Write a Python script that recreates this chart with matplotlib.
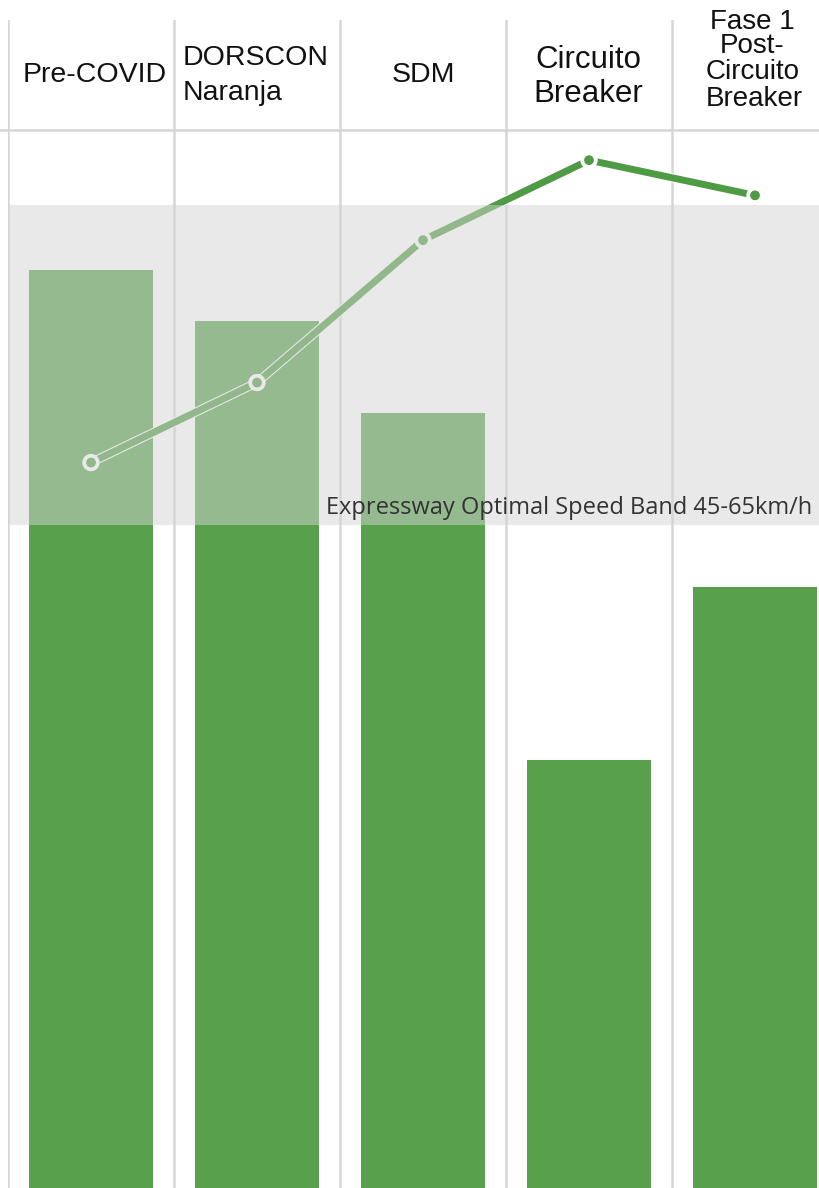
import matplotlib
matplotlib.use("Agg")
import matplotlib.pyplot as plt
import matplotlib.patheffects as pe
import numpy as np

# ---- data ----
categories = ["Pre-COVID", "DORSCON\nNaranja", "SDM", "Circuito\nBreaker",
              "Fase 1\nPost-\nCircuito\nBreaker"]
traffic_index = [100.0, 94.4, 84.4, 46.6, 65.4]        # bars (relative volume)
avg_speed = [48.9, 53.9, 62.8, 67.8, 65.6]               # line (km/h)
band_low, band_high = 45, 65
band_label = "Expressway Optimal Speed Band 45-65km/h"

W, H = 820, 1188
fig = plt.figure(figsize=(W / 100, H / 100), dpi=100)
fig.patch.set_facecolor("white")

def fx(px):
    return px / W

def fy(py):
    return 1 - py / H

ax_left, ax_right = 8, 838
ax_top = 20
ax = fig.add_axes([fx(ax_left), 0, (ax_right - ax_left) / W, (H - ax_top) / H])
ax.set_xlim(-0.5, 4.5)
ax.set_ylim(0, 127.2)
for s in ax.spines.values():
    s.set_visible(False)
ax.set_xticks([])
ax.set_yticks([])

x = np.arange(len(categories))
bar_green = "#59a04c"
ax.bar(x, traffic_index, width=0.745, color=bar_green, zorder=2)

# column separators
for b in np.arange(-0.5, 4.5, 1.0):
    ax.axvline(b, color="#d6d6d6", lw=1.8, zorder=1)

ax2 = ax.twinx()
ax2.set_ylim(3.56, 76.56)
ax2.set_xlim(-0.5, 4.5)
for s in ax2.spines.values():
    s.set_visible(False)
ax2.set_yticks([])
ax2.set_xticks([])

line_green = "#4f9a44"
ax2.plot(x, avg_speed, color=line_green, lw=5, marker="o", ms=6,
         solid_capstyle="round", solid_joinstyle="round", zorder=3,
         path_effects=[pe.Stroke(linewidth=6.5, foreground="white"), pe.Normal()])

# optimal band as translucent overlay
ax2.axhspan(band_low, band_high, color=(211/255, 213/255, 211/255), alpha=0.5,
            lw=0, zorder=4)

# band label (right-aligned inside the visible area)
fig.text(fx(812), fy(508), band_label, ha="right", va="center",
         fontsize=17, family="Open Sans", color="#333333", zorder=6)

# header separator
fig.add_artist(plt.Line2D([0, 1], [fy(130), fy(130)], color="#d6d6d6", lw=1.8))

# header labels
base = dict(family="Liberation Sans", color="#111111", va="center")
fig.text(fx(95), fy(75), "Pre-COVID", fontsize=20.5, ha="center", **base)
fig.text(fx(183), fy(58), "DORSCON", fontsize=20.5, ha="left", **base)
fig.text(fx(183), fy(93), "Naranja", fontsize=20.5, ha="left", **base)
fig.text(fx(423), fy(75), "SDM", fontsize=20.5, ha="center", **base)
fig.text(fx(588), fy(60), "Circuito", fontsize=22.5, ha="center", **base)
fig.text(fx(588), fy(94), "Breaker", fontsize=22.5, ha="center", **base)
fig.text(fx(752), fy(22), "Fase 1", fontsize=20, ha="center", **base)
fig.text(fx(752), fy(46), "Post-", fontsize=20, ha="center", **base)
fig.text(fx(753), fy(72), "Circuito", fontsize=20, ha="center", **base)
fig.text(fx(754), fy(99), "Breaker", fontsize=20, ha="center", **base)

fig.savefig("out.png", dpi=100, facecolor="white")
